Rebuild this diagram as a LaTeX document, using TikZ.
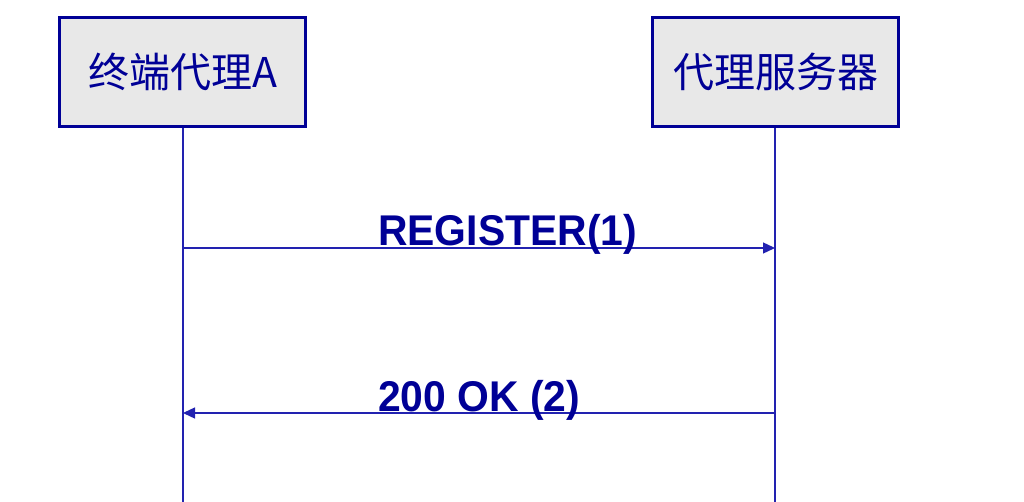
\documentclass[tikz,border=0pt]{standalone}
\usepackage{fontspec}
\setmainfont{Liberation Sans}
\newfontfamily\cjk{Noto Sans CJK SC}
\usetikzlibrary{arrows.meta}
\definecolor{dkblue}{HTML}{000096}
\definecolor{lnblue}{HTML}{2222B0}
\definecolor{boxgray}{HTML}{E8E8E8}
\tikzset{
  actor/.style={draw=dkblue, line width=3pt, fill=boxgray, minimum width=246pt, minimum height=109pt, inner sep=0pt, text=dkblue, font=\cjk\fontsize{41}{41}\selectfont},
  life/.style={draw=lnblue, line width=1.3pt},
  msg/.style={draw=lnblue, line width=1.3pt, -{Triangle[length=12pt,width=11pt]}},
  lbl/.style={anchor=base west, text=dkblue, inner sep=0pt, xscale=0.95, font=\bfseries\fontsize{43}{43}\selectfont}
}
\begin{document}
\begin{tikzpicture}[x=1pt,y=-1pt]
\useasboundingbox (0,0) rectangle (1024,502);
\node[actor] (A) at (182.5,72) {终端代理A};
\node[actor] (B) at (775.5,72) {代理服务器};
\coordinate (Aend) at (183,502);
\coordinate (Bend) at (775,502);
\draw[life] (A.south -| Aend) -- (Aend);
\draw[life] (B.south -| Bend) -- (Bend);
\coordinate (a1) at (183,248);
\coordinate (b1) at (775,248);
\coordinate (a2) at (183,413);
\coordinate (b2) at (775,413);
\draw[msg] (a1) -- (b1);
\draw[msg] (b2) -- (a2);
\node[lbl] (l1) at (378,246) {REGISTER(1)};
\node[lbl] (l2) at (378,411) {200 OK (2)};
\end{tikzpicture}
\end{document}
